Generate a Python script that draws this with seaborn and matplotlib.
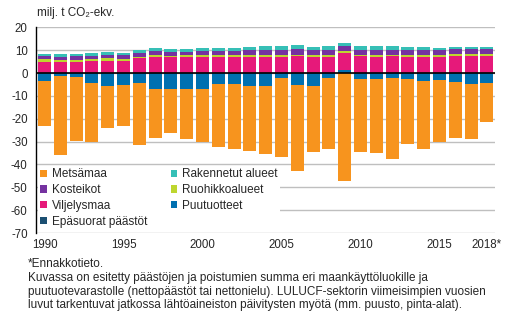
import numpy as np
import pandas as pd
import matplotlib
matplotlib.use("Agg")
import matplotlib.pyplot as plt
import seaborn as sns
from matplotlib.patches import Patch

years = [str(y) for y in range(1990, 2019)]
tick_labels = ["1990", "", "", "", "", "1995", "", "", "", "", "2000", "", "", "", "",
               "2005", "", "", "", "", "2010", "", "", "", "", "2015", "", "", "2018*"]

epasuorat = [0.1] * 29
puutuotteet = [-3.3, -1.2, -1.6, -4.2, -5.5, -5.1, -4.2, -6.8, -6.8, -6.8, -6.8, -4.7, -4.7, -5.5, -5.5,
               -2.0, -5.1, -5.9, -2.0, 1.4, -2.5, -2.5, -2.0, -2.5, -3.3, -2.9, -3.8, -4.7, -4.2]
viljelysmaa = [4.8, 4.8, 4.8, 5.3, 5.3, 5.3, 6.4, 7.1, 6.7, 7.1, 7.0, 6.7, 7.1, 7.1, 7.0,
               7.0, 7.4, 7.0, 7.0, 7.3, 7.4, 7.0, 7.4, 7.0, 7.0, 7.0, 7.4, 7.4, 7.4]
ruohikko = [1.3, 0.9, 1.0, 0.9, 1.0, 0.9, 0.6, 0.5, 0.7, 0.5, 0.9, 0.9, 0.8, 0.8, 0.9,
            0.9, 0.5, 0.9, 0.9, 0.9, 0.5, 0.9, 0.5, 0.9, 0.9, 0.9, 0.9, 0.9, 0.9]
kosteikot = [1.3, 1.4, 1.6, 1.2, 1.6, 1.7, 1.7, 2.0, 1.8, 1.6, 1.7, 2.0, 1.7, 2.1, 2.1,
             2.1, 2.6, 2.1, 2.1, 2.2, 2.1, 2.1, 2.1, 2.1, 2.1, 2.1, 2.2, 2.2, 2.2]
rakennetut = [0.9, 1.2, 0.9, 1.4, 1.3, 0.8, 1.3, 1.3, 1.3, 1.3, 1.3, 1.3, 1.3, 1.3, 1.8,
              1.8, 1.7, 1.3, 1.8, 1.3, 1.8, 1.8, 1.8, 1.3, 1.3, 0.9, 0.8, 0.8, 0.8]
metsamaa = [-19.9, -34.6, -28.1, -26.0, -18.6, -18.1, -27.3, -21.6, -19.5, -22.2, -23.4, -27.6, -28.6, -28.6, -29.9,
            -34.8, -37.7, -28.6, -31.3, -47.1, -32.0, -32.5, -35.7, -28.5, -30.0, -27.3, -24.6, -24.3, -17.3]

# stacking order (nearest zero first)
series = [
    ("Epäsuorat päästöt", epasuorat, "#1B4F72"),
    ("Puutuotteet", puutuotteet, "#0070B0"),
    ("Viljelysmaa", viljelysmaa, "#E6197A"),
    ("Ruohikkoalueet", ruohikko, "#BED62F"),
    ("Kosteikot", kosteikot, "#7532A0"),
    ("Rakennetut alueet", rakennetut, "#36BFB6"),
    ("Metsämaa", metsamaa, "#F7941E"),
]

sns.set_style("white")
plt.rcParams["font.family"] = ["Liberation Sans", "DejaVu Sans"]
plt.rcParams["axes.unicode_minus"] = False

FS = 8.3

fig = plt.figure(figsize=(5.13, 3.25), dpi=100)
ax = fig.add_axes([36 / 513, 1 - 233 / 325, (495 - 36) / 513, (233 - 27.3) / 325])

pos_base = np.zeros(len(years))
neg_base = np.zeros(len(years))
colors = {}
for name, vals, col in series:
    v = np.array(vals, dtype=float)
    bottom = np.where(v >= 0, pos_base, neg_base)
    df = pd.DataFrame({"year": years, "value": v})
    sns.barplot(data=df, x="year", y="value", order=years, color=col, saturation=1,
                width=0.82, bottom=bottom, errorbar=None, linewidth=0, ax=ax, zorder=2)
    pos_base = np.where(v >= 0, pos_base + v, pos_base)
    neg_base = np.where(v < 0, neg_base + v, neg_base)
    colors[name] = col

ax.set_ylim(-70, 20)
ax.set_xlim(-0.54, 28.51)
ax.set_yticks(range(-70, 21, 10))
ax.set_yticklabels([str(t) for t in range(-70, 21, 10)], fontsize=FS)
ax.set_xticks(range(len(years)))
ax.set_xticklabels(tick_labels, fontsize=FS)
ax.tick_params(axis="x", length=0, pad=4)
ax.tick_params(axis="y", length=3, width=0.8, color="black", direction="out", pad=3)
ax.set_xlabel("")
ax.set_ylabel("")
ax.yaxis.grid(True, color="#BFBFBF", linewidth=1)
ax.xaxis.grid(False)
ax.set_axisbelow(True)
for s in ["top", "right", "bottom"]:
    ax.spines[s].set_visible(False)
ax.spines["left"].set_color("black")
ax.spines["left"].set_linewidth(1)
ax.axhline(0, color="black", linewidth=1.2, zorder=3)

order = ["Metsämaa", "Kosteikot", "Viljelysmaa", "Epäsuorat päästöt",
         "Rakennetut alueet", "Ruohikkoalueet", "Puutuotteet"]
handles = [Patch(facecolor=colors[n], edgecolor="none", label=n) for n in order]
leg = ax.legend(handles=handles, ncol=2, loc="upper left",
                bbox_to_anchor=(38 / 513, 1 - 166 / 325), bbox_transform=fig.transFigure,
                fontsize=FS + 0.2, frameon=True, facecolor="white", edgecolor="none", framealpha=1,
                handlelength=0.55, handleheight=0.55, handletextpad=0.4, labelspacing=0.32,
                columnspacing=2.0, borderpad=0.2, borderaxespad=0)
leg.set_zorder(4)

fig.text(37 / 513, 1 - 13 / 325, "milj. t CO₂-ekv.", fontsize=FS + 0.2, va="center", ha="left")

note = ("*Ennakkotieto.\n"
        "Kuvassa on esitetty päästöjen ja poistumien summa eri maankäyttöluokille ja\n"
        "puutuotevarastolle (nettopäästöt tai nettonielu). LULUCF-sektorin viimeisimpien vuosien\n"
        "luvut tarkentuvat jatkossa lähtöaineiston päivitysten myötä (mm. puusto, pinta-alat).")
fig.text(28 / 513, 1 - 258 / 325, note, fontsize=8.5, va="top", ha="left", linespacing=1.2)

fig.savefig("out.png", dpi=100)
